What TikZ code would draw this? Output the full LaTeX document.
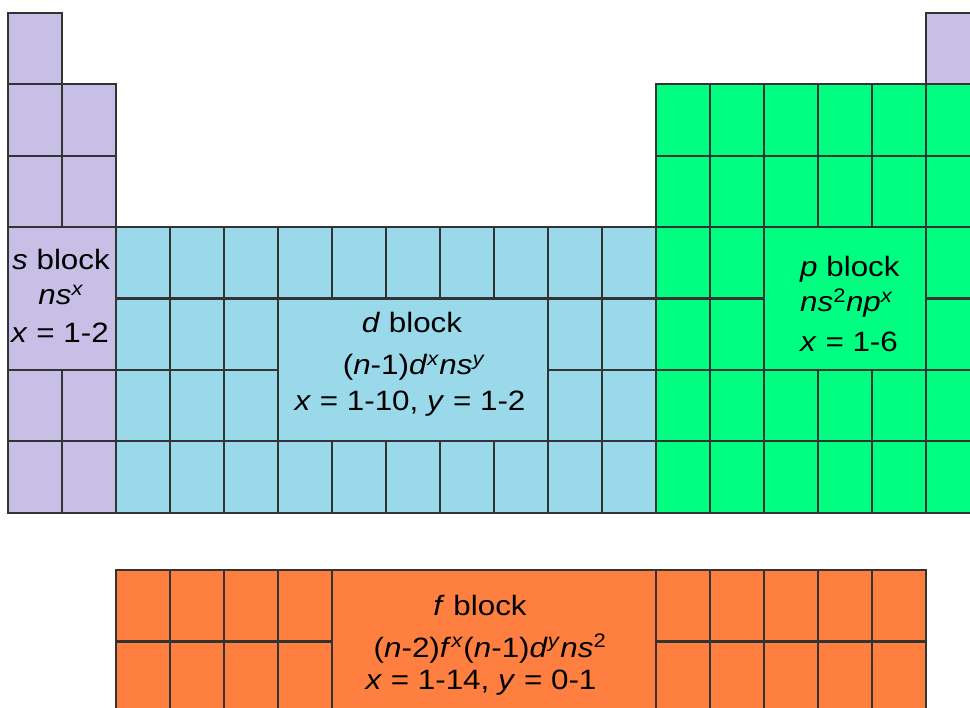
\documentclass[tikz,border=0pt]{standalone}
\usepackage{fontspec}
\setmainfont{Liberation Sans}[FakeStretch=1.12]
\definecolor{sblk}{HTML}{C8BFE7}
\definecolor{dblk}{HTML}{99D9EA}
\definecolor{pblk}{HTML}{00FF80}
\definecolor{fblk}{HTML}{FF7F40}
\definecolor{gridc}{HTML}{333333}
\newcommand\mycell[3]{\draw[cell,fill=#3] ({8+54*(#1-1)},{13+71.4*(#2-1)}) rectangle +(54,71.4);}
\newcommand\myfcell[3]{\draw[cell,fill=#3] ({8+54*(#1-1)},{570+71.5*(#2-1)}) rectangle +(54,71.5);}
\begin{document}
\begin{tikzpicture}[x=1pt,y=-1pt,
  cell/.style={draw=gridc,line width=2.2pt},
  lbl/.style={font=\fontsize{28}{34}\selectfont,inner sep=0pt,anchor=base},
  lblw/.style={lbl,anchor=base west}]
\useasboundingbox (0,0) rectangle (970,708);
\clip (0,0) rectangle (970,708);
% s block
\foreach \r in {1,...,7} {\mycell{1}{\r}{sblk}}
\foreach \r in {2,...,7} {\mycell{2}{\r}{sblk}}
% d block
\foreach \c in {3,...,12} {\foreach \r in {4,...,7} {\mycell{\c}{\r}{dblk}}}
% p block
\foreach \c in {13,...,18} {\foreach \r in {2,...,7} {\mycell{\c}{\r}{pblk}}}
\mycell{18}{1}{sblk}
% f block
\foreach \c in {3,...,17} {\foreach \r in {1,2} {\myfcell{\c}{\r}{fblk}}}
% label panels
\draw[cell,fill=sblk] (8,227.2) rectangle (116,370);
\draw[cell,fill=dblk] (278,298.6) rectangle (548,441.4);
\draw[cell,fill=pblk] (764,227.2) rectangle (926,370);
\draw[cell,fill=fblk] (332,570) rectangle (656,713.5);
% s label
\node[lbl] (s1) at (61,269.5) {\textit{s} block};
\node[lbl] (s2) at (61,305) {\textit{ns}\textsuperscript{\textit{x}}};
\node[lbl] (s3) at (60,343) {\textit{x} = 1-2};
% d label
\node[lbl] (d1) at (412,333) {\textit{d} block};
\node[lbl] (d2) at (414,375) {(\textit{n}-1)\textit{d}\textsuperscript{\textit{x}}\textit{ns}\textsuperscript{\textit{y}}};
\node[lbl] (d3) at (410,411) {\textit{x} = 1-10, \textit{y} = 1-2};
% p label
\node[lblw] (p1) at (800,277) {\textit{p} block};
\node[lblw] (p2) at (800,312) {\textit{ns}\textsuperscript{2}\textit{np}\textsuperscript{\textit{x}}};
\node[lblw] (p3) at (800,352) {\textit{x} = 1-6};
% f label
\node[lbl] (f1) at (480,615) {\textit{f} block};
\node[lbl] (f2) at (490,657) {(\textit{n}-2)\textit{f}\textsuperscript{\textit{x}}(\textit{n}-1)\textit{d}\textsuperscript{\textit{y}}\textit{ns}\textsuperscript{2}};
\node[lbl] (f3) at (481,689) {\textit{x} = 1-14, \textit{y} = 0-1};
\end{tikzpicture}
\end{document}
